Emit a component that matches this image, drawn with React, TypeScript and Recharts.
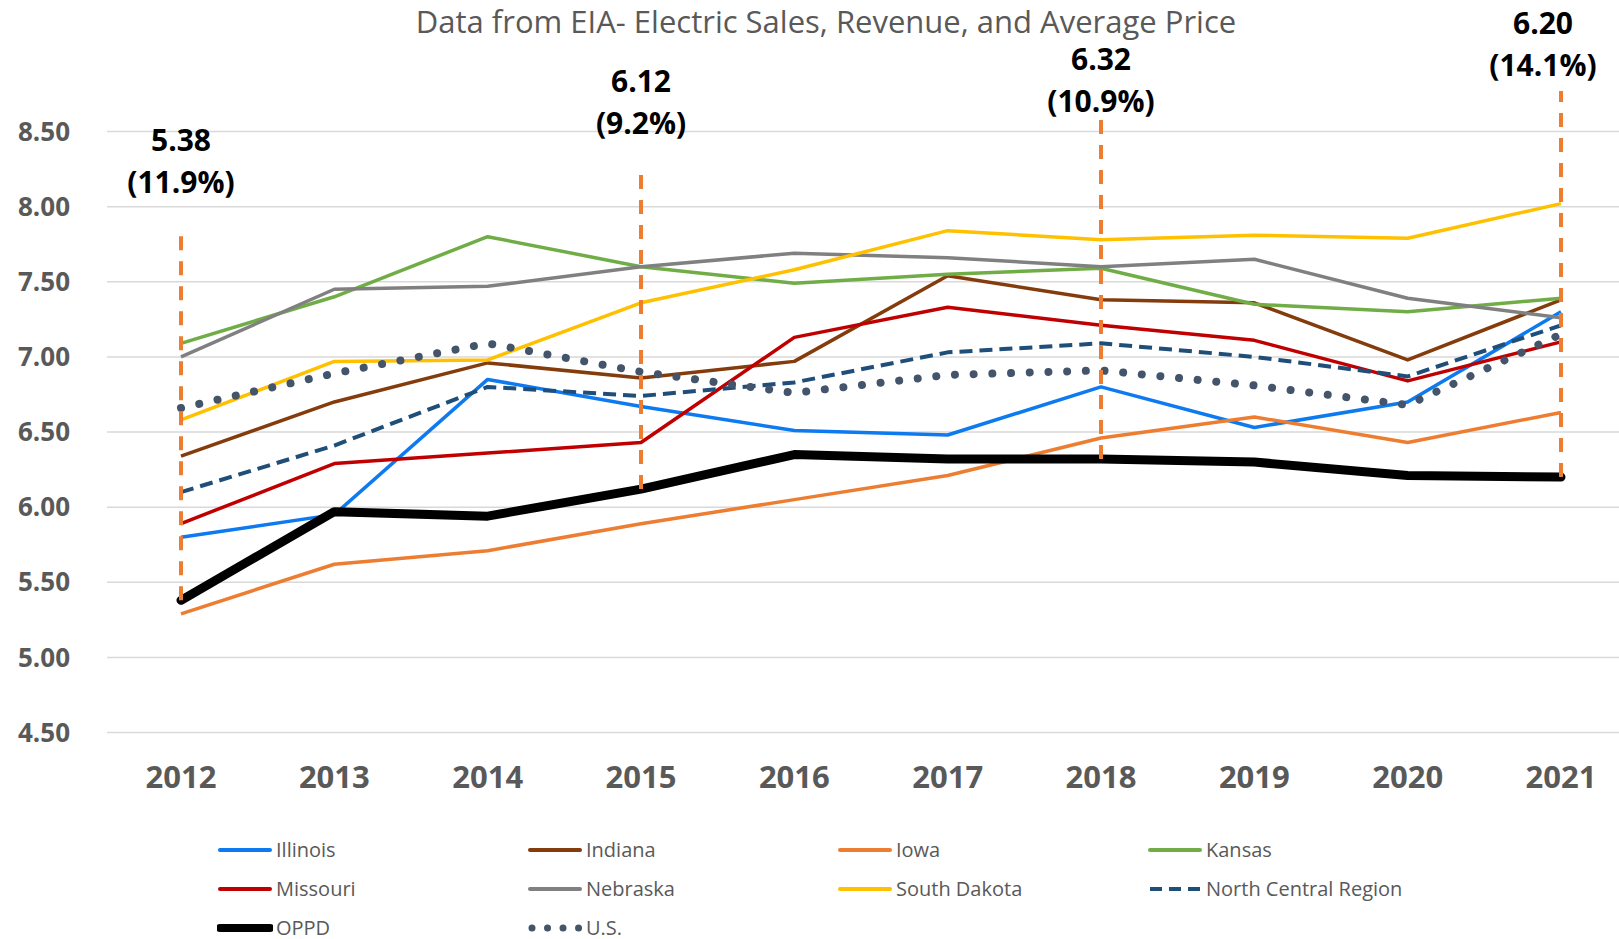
import React from "react";
import { LineChart, Line, XAxis, YAxis, CartesianGrid, ReferenceLine } from "recharts";

const years = ["2012", "2013", "2014", "2015", "2016", "2017", "2018", "2019", "2020", "2021"];

const illinois = [5.8, 5.95, 6.85, 6.67, 6.51, 6.48, 6.8, 6.53, 6.7, 7.3];
const indiana = [6.34, 6.7, 6.96, 6.86, 6.97, 7.54, 7.38, 7.36, 6.98, 7.38];
const iowa = [5.29, 5.62, 5.71, 5.89, 6.05, 6.21, 6.46, 6.6, 6.43, 6.63];
const kansas = [7.09, 7.4, 7.8, 7.6, 7.49, 7.55, 7.59, 7.35, 7.3, 7.39];
const missouri = [5.89, 6.29, 6.36, 6.43, 7.13, 7.33, 7.21, 7.11, 6.84, 7.1];
const nebraska = [7.0, 7.45, 7.47, 7.6, 7.69, 7.66, 7.6, 7.65, 7.39, 7.26];
const southDakota = [6.58, 6.97, 6.98, 7.36, 7.58, 7.84, 7.78, 7.81, 7.79, 8.02];
const northCentral = [6.1, 6.41, 6.8, 6.74, 6.83, 7.03, 7.09, 7.0, 6.87, 7.21];
const oppd = [5.38, 5.97, 5.94, 6.12, 6.35, 6.32, 6.32, 6.3, 6.21, 6.2];
const us = [6.66, 6.89, 7.09, 6.9, 6.76, 6.88, 6.91, 6.81, 6.68, 7.15];

const yTicks = [4.5, 5.0, 5.5, 6.0, 6.5, 7.0, 7.5, 8.0, 8.5];

// OPPD call-outs
const markYears = ["2012", "2015", "2018", "2021"];
const markValues = [5.38, 6.12, 6.32, 6.2];
const markShares = ["11.9%", "9.2%", "10.9%", "14.1%"];
const markTops = [7.87, 8.21, 8.61, 8.77];

const series = [
  { name: "Illinois", values: illinois, color: "#0D7AF0", width: 3.5 },
  { name: "Indiana", values: indiana, color: "#843C0C", width: 3.5 },
  { name: "Iowa", values: iowa, color: "#ED7D31", width: 3.5 },
  { name: "Kansas", values: kansas, color: "#70AD47", width: 3.5 },
  { name: "Missouri", values: missouri, color: "#C00000", width: 3.5 },
  { name: "Nebraska", values: nebraska, color: "#808080", width: 3.5 },
  { name: "South Dakota", values: southDakota, color: "#FFC000", width: 3.5 },
  { name: "North Central Region", values: northCentral, color: "#1F4E79", width: 4, dash: "13 7" },
  { name: "OPPD", values: oppd, color: "#000000", width: 9 },
  { name: "U.S.", values: us, color: "#44546A", width: 8, dash: "0.01 18.7" },
];

const data = years.map((year, i) => {
  const row: Record<string, number | string> = { year };
  series.forEach((s) => {
    row[s.name] = s.values[i];
  });
  return row;
});

// label placement: gap above the dashed line top, and a sideways nudge
const labelGaps = [44, 52, 14, 26];
const labelShift = [0, 0, 0, -18];
const FONT = "'Open Sans', sans-serif";

function CallOut({ viewBox, value, share, gap, shift }: any) {
  if (!viewBox) return null;
  const x = viewBox.x + shift;
  const y = viewBox.y - gap;
  return (
    <text x={x} textAnchor="middle" fontFamily={FONT} fontWeight={700} fontSize={30} fill="#000">
      <tspan x={x} y={y - 42} dy="0.36em">{value.toFixed(2)}</tspan>
      <tspan x={x} y={y} dy="0.36em">({share})</tspan>
    </text>
  );
}

function LegendSample({ s }: any) {
  const isDot = s.name === "U.S.";
  const isDash = !!s.dash && !isDot;
  return (
    <svg width={56} height={14} style={{ display: "block" }}>
      <line
        x1={isDot ? 5 : 3}
        y1={7}
        x2={53}
        y2={7}
        stroke={s.color}
        strokeWidth={s.name === "OPPD" ? 8 : isDot ? 7 : 4}
        strokeLinecap={isDash ? "butt" : "round"}
        strokeDasharray={isDot ? "0.01 15.5" : isDash ? "12 7" : undefined}
      />
    </svg>
  );
}

export default function App() {
  return (
    <div style={{ position: "relative", width: 1619, height: 939, background: "#fff", fontFamily: FONT }}>
      <style>{"body{margin:0}"}</style>
      <div
        style={{
          position: "absolute",
          left: 826,
          top: 6,
          transform: "translateX(-50%)",
          whiteSpace: "nowrap",
          fontSize: 31,
          fontWeight: 400,
          lineHeight: "30px",
          color: "#595959",
        }}
      >
        Data from EIA- Electric Sales, Revenue, and Average Price
      </div>
      <LineChart width={1619} height={939} data={data} margin={{ top: 131.5, right: 0, bottom: 146.5, left: 0 }}>
        <CartesianGrid vertical={false} stroke="#D9D9D9" strokeWidth={1.5} />
        <XAxis
          dataKey="year"
          axisLine={false}
          tickLine={false}
          tickSize={0}
          tickMargin={33}
          height={60}
          padding={{ left: 74, right: 58 }}
          tick={{ fontFamily: FONT, fontWeight: 700, fontSize: 31, fill: "#595959" }}
          interval={0}
        />
        <YAxis
          domain={[4.5, 8.5]}
          ticks={yTicks}
          width={107}
          axisLine={false}
          tickLine={false}
          tickSize={0}
          tickMargin={37}
          tickFormatter={(v: number) => v.toFixed(2)}
          tick={{ fontFamily: FONT, fontWeight: 700, fontSize: 26, fill: "#595959" }}
        />
        {series.map((s) => (
          <Line
            key={s.name}
            type="linear"
            dataKey={s.name}
            stroke={s.color}
            strokeWidth={s.width}
            strokeDasharray={s.dash}
            strokeLinecap={s.name === "U.S." || s.name === "OPPD" ? "round" : "butt"}
            strokeLinejoin="round"
            dot={false}
            activeDot={false}
            isAnimationActive={false}
          />
        ))}
        {markYears.map((yr, i) => (
          <ReferenceLine
            key={yr}
            segment={[
              { x: yr, y: markValues[i] },
              { x: yr, y: markTops[i] },
            ]}
            ifOverflow="visible"
            stroke="#ED7D31"
            strokeWidth={4}
            strokeDasharray="14 11"
            label={(p: any) => (
              <CallOut {...p} value={markValues[i]} share={markShares[i]} gap={labelGaps[i]} shift={labelShift[i]} />
            )}
          />
        ))}
      </LineChart>
      <div style={{ position: "absolute", left: 217, top: 836, width: 1300 }}>
        {[0, 1, 2].map((r) => (
          <div key={r} style={{ display: "flex", height: 39 }}>
            {series.slice(r * 4, r * 4 + 4).map((s) => (
              <div key={s.name} style={{ width: 310, display: "flex", alignItems: "center", height: 28 }}>
                <LegendSample s={s} />
                <span style={{ fontSize: 20, color: "#595959", marginLeft: 3, lineHeight: "28px" }}>{s.name}</span>
              </div>
            ))}
          </div>
        ))}
      </div>
    </div>
  );
}
